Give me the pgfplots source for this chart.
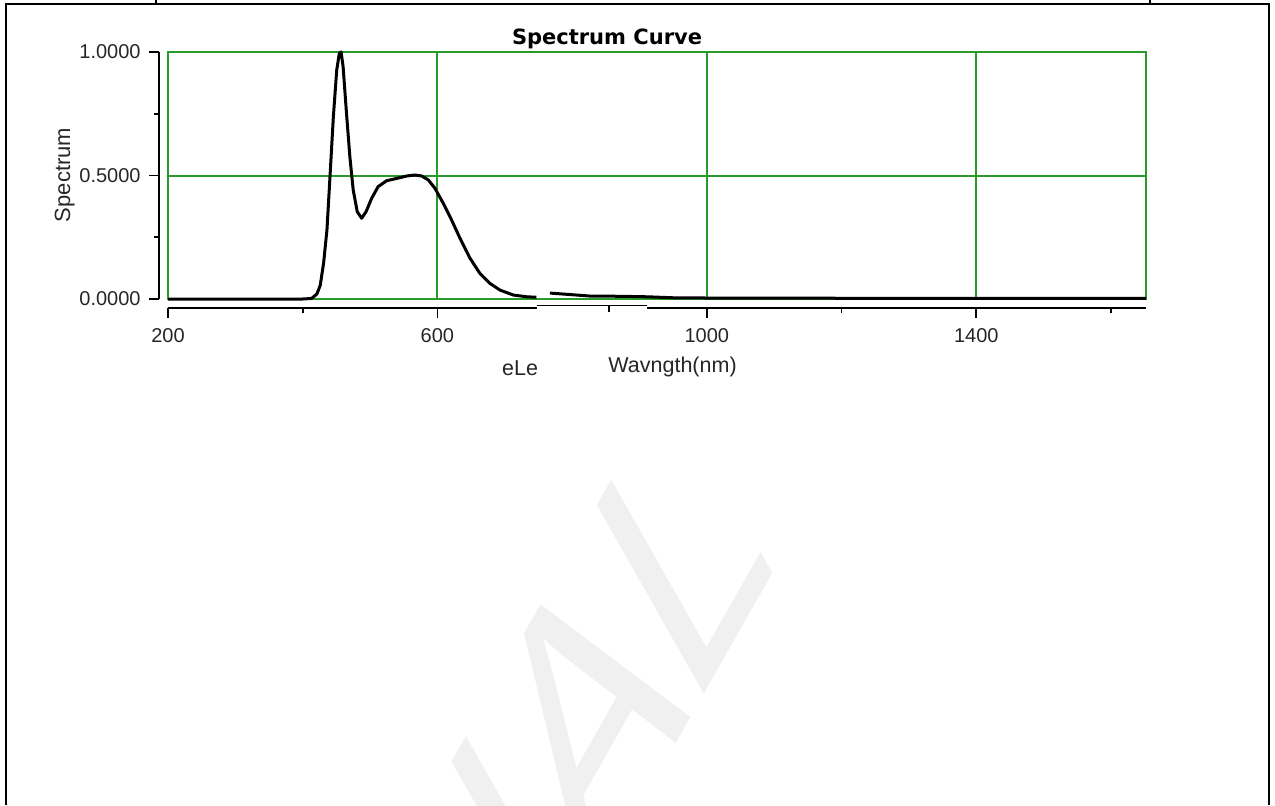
\documentclass[border=0pt]{standalone}
\usepackage{pgfplots}
\pgfplotsset{compat=1.18}
\usepackage{fontspec}
\setmainfont{Liberation Sans}
\newfontfamily\titlefont{DejaVu Sans}
\definecolor{gridgreen}{RGB}{40,155,40}
\definecolor{wmgray}{RGB}{240,240,240}
\begin{document}
\begin{tikzpicture}[x=0.5pt,y=0.5pt]
\useasboundingbox (0,0) rectangle (1275,805);
% watermark
\begin{scope}
\clip (0,0) rectangle (1275,805);
\begin{scope}[yscale=1.76]
\node[transform shape, rotate=45, anchor=base east, inner sep=0pt, text=wmgray,
      font=\fontsize{110}{110}\selectfont] at (778,137) {IAL};
\end{scope}
\end{scope}
% page frame
\draw[line width=1pt] (6,0) -- (6,801) -- (1269,801) -- (1269,0);
\draw[line width=1pt] (156,801) -- (156,805);
\draw[line width=1pt] (1150,801) -- (1150,805);
\begin{axis}[
  at={(84pt,253pt)}, anchor=south west,
  scale only axis, width=489pt, height=123.5pt,
  xmin=200, xmax=1652, ymin=0, ymax=1,
  clip=false,
  axis line style={gridgreen, line width=1pt},
  grid=major, major grid style={gridgreen, line width=1pt},
  xtick={200,600,1000,1400}, ytick={0,0.5,1},
  xticklabels={200,600,1000,1400},
  yticklabels={0.0000,0.5000,1.0000},
  major tick length=0pt, minor tick length=0pt,
  tick label style={font=\fontsize{10}{12}\selectfont, text=black!85},
  xticklabel style={anchor=center, yshift=-18.25pt},
  yticklabel style={anchor=east, inner sep=0pt, xshift=-13.5pt},
  title={Spectrum Curve},
  title style={at={(axis description cs:0.4489,1.0304)}, anchor=base, yshift=-6pt, inner sep=0pt,
               font=\titlefont\bfseries\fontsize{10.5}{12}\selectfont},
  xlabel={Wavngth(nm)},
  xlabel style={at={(axis description cs:0.5159,-0.2976)}, anchor=base, inner sep=0pt,
               font=\fontsize{10.75}{12}\selectfont, text=black!85},
  ylabel={Spectrum},
  ylabel style={at={(axis description cs:-0.1002,0.502)}, anchor=base, rotate=0, inner sep=0pt,
               font=\fontsize{11}{12}\selectfont, text=black!85},
]
\addplot[black, line width=1.5pt, line join=round] coordinates {
(200,0)(300,0)(400,0)(413,0.002)(421,0.02)(426,0.055)(431,0.145)(436,0.28)
(440.5,0.495)(445.5,0.738)(450.5,0.927)(454.4,0.995)(457,1.0)(460,0.94)
(465,0.752)(470,0.576)(475,0.441)(481,0.353)(487.5,0.327)(494,0.353)
(502.4,0.408)(512,0.455)(524.7,0.479)(539.5,0.488)(554.4,0.498)(566.7,0.502)
(576.7,0.498)(586.5,0.482)(596.4,0.448)(608.7,0.387)(621,0.32)(633.5,0.246)
(648.4,0.165)(663,0.104)(678,0.063)(693,0.036)(712.7,0.016)(732.5,0.009)(747,0.007)
};
\addplot[black, line width=1.5pt, line join=round] coordinates {
(767,0.024)(797,0.018)(826,0.012)(870,0.011)(911,0.009)(950,0.005)(1000,0.004)
(1200,0.003)(1400,0.003)(1652,0.003)
};
\node[anchor=base, inner sep=0pt, font=\fontsize{10.75}{12}\selectfont, text=black!85]
  at (axis description cs:0.36,-0.3077) {eLe};
% black offset axes
\draw[line width=0.9pt] ([xshift=-4.5pt]axis cs:200,1) -- ([xshift=-4.5pt]axis cs:200,0);
\draw[line width=0.8pt] ([xshift=-4.5pt]axis cs:200,1) -- ([xshift=-9.5pt]axis cs:200,1);
\draw[line width=0.8pt] ([xshift=-4.5pt]axis cs:200,0.5) -- ([xshift=-9.5pt]axis cs:200,0.5);
\draw[line width=0.8pt] ([xshift=-4.5pt]axis cs:200,0) -- ([xshift=-9.5pt]axis cs:200,0);
\draw[line width=0.8pt] ([xshift=-4.5pt]axis cs:200,0.75) -- ([xshift=-7pt]axis cs:200,0.75);
\draw[line width=0.8pt] ([xshift=-4.5pt]axis cs:200,0.25) -- ([xshift=-7pt]axis cs:200,0.25);
\draw[line width=0.9pt] ([yshift=-4.5pt]axis cs:200,0) -- ([yshift=-4.5pt]axis cs:748,0);
\draw[line width=0.9pt] ([yshift=-3.2pt]axis cs:748,0) -- ([yshift=-3.2pt]axis cs:911,0);
\draw[line width=0.9pt] ([yshift=-4.5pt]axis cs:911,0) -- ([yshift=-4.5pt]axis cs:1652,0);
\draw[line width=0.8pt] ([yshift=-4.5pt]axis cs:200,0) -- ([yshift=-9.5pt]axis cs:200,0);
\draw[line width=0.8pt] ([yshift=-4.5pt]axis cs:600,0) -- ([yshift=-9.5pt]axis cs:600,0);
\draw[line width=0.8pt] ([yshift=-4.5pt]axis cs:1000,0) -- ([yshift=-9.5pt]axis cs:1000,0);
\draw[line width=0.8pt] ([yshift=-4.5pt]axis cs:1400,0) -- ([yshift=-9.5pt]axis cs:1400,0);
\draw[line width=0.8pt] ([yshift=-4.5pt]axis cs:400,0) -- ([yshift=-7pt]axis cs:400,0);
\draw[line width=0.8pt] ([yshift=-3.2pt]axis cs:855,0) -- ([yshift=-6.5pt]axis cs:855,0);
\draw[line width=0.8pt] ([yshift=-4.5pt]axis cs:1200,0) -- ([yshift=-7pt]axis cs:1200,0);
\draw[line width=0.8pt] ([yshift=-4.5pt]axis cs:1600,0) -- ([yshift=-7pt]axis cs:1600,0);
\end{axis}
\end{tikzpicture}
\end{document}
